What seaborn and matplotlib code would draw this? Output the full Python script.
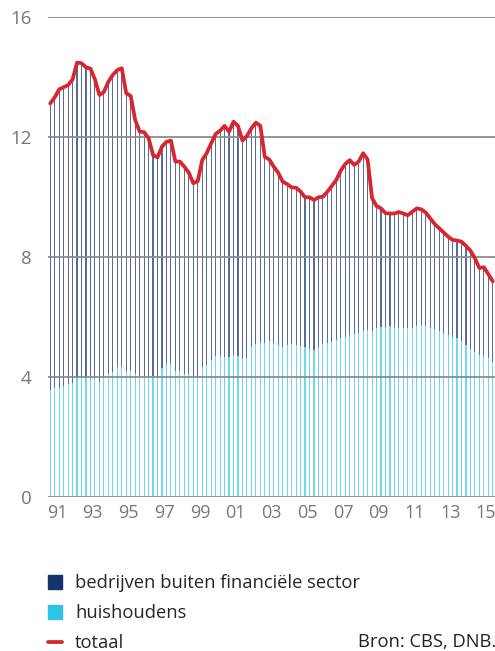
import numpy as np
import pandas as pd
import matplotlib
matplotlib.use("Agg")
import matplotlib.pyplot as plt
from matplotlib.patches import Patch
from matplotlib.lines import Line2D
import seaborn as sns

# quarterly data 1991Q1 - 2015Q4
jaren = np.repeat(np.arange(1991, 2016), 4)
kwartalen = np.tile(np.arange(1, 5), 25)

totaal = [13.11, 13.31, 13.58, 13.65, 13.72, 13.91, 14.47, 14.45, 14.31, 14.27,
          13.91, 13.39, 13.49, 13.83, 14.06, 14.22, 14.28, 13.45, 13.36, 12.56,
          12.17, 12.15, 11.95, 11.39, 11.31, 11.67, 11.83, 11.87, 11.17, 11.17,
          11.0, 10.8, 10.45, 10.52, 11.22, 11.45, 11.78, 12.09, 12.2, 12.36,
          12.17, 12.5, 12.36, 11.87, 12.02, 12.28, 12.47, 12.36, 11.33, 11.24,
          11.0, 10.8, 10.5, 10.42, 10.31, 10.3, 10.17, 9.98, 9.98, 9.89,
          9.98, 10.0, 10.17, 10.36, 10.56, 10.87, 11.09, 11.22, 11.06, 11.17,
          11.45, 11.24, 9.95, 9.69, 9.61, 9.45, 9.44, 9.44, 9.49, 9.44,
          9.38, 9.5, 9.61, 9.58, 9.47, 9.28, 9.09, 8.95, 8.81, 8.67,
          8.56, 8.54, 8.5, 8.36, 8.2, 7.95, 7.62, 7.65, 7.42, 7.18]

huishoudens = [3.56, 3.61, 3.64, 3.69, 3.76, 3.8, 3.95, 3.95, 3.95, 3.95,
               3.93, 3.83, 3.95, 4.09, 4.17, 4.31, 4.33, 4.2, 4.2, 4.09,
               4.02, 4.02, 4.02, 4.02, 4.02, 4.28, 4.44, 4.44, 4.2, 4.2,
               4.1, 4.1, 4.04, 4.04, 4.31, 4.39, 4.56, 4.69, 4.69, 4.66,
               4.66, 4.72, 4.69, 4.58, 4.61, 5.0, 5.09, 5.13, 5.11, 5.2,
               5.13, 5.06, 5.0, 5.06, 5.08, 5.06, 5.04, 5.0, 4.94, 4.9,
               5.0, 5.08, 5.13, 5.17, 5.22, 5.28, 5.33, 5.38, 5.42, 5.47,
               5.53, 5.56, 5.53, 5.61, 5.67, 5.67, 5.69, 5.67, 5.64, 5.61,
               5.61, 5.64, 5.69, 5.71, 5.69, 5.64, 5.58, 5.53, 5.47, 5.39,
               5.33, 5.28, 5.2, 5.06, 4.94, 4.83, 4.72, 4.69, 4.61, 4.5]

tick_jaren = list(range(1991, 2016, 2))
tick_labels = [str(j)[2:] for j in tick_jaren]

df = pd.DataFrame({
    "t": jaren + (kwartalen - 0.5) / 4,
    "totaal": totaal,
    "huishoudens": huishoudens,
})

donker = "#17336e"
licht = "#2ec4e6"
rood = "#d7262d"
grijs = "#8c8c8c"

sns.set_style("white")
plt.rcParams["font.family"] = ["Open Sans", "DejaVu Sans"]

fig = plt.figure(figsize=(4.95, 6.51), dpi=100)
ax = fig.add_axes([48 / 495, 1 - 496.7 / 651, 447 / 495, 480 / 651])

# dark = total height, light drawn over it -> stacked look
sns.barplot(data=df, x="t", y="totaal", native_scale=True, width=0.25,
            color=donker, saturation=1, linewidth=0, errorbar=None, ax=ax,
            alpha=0.72)
sns.barplot(data=df, x="t", y="huishoudens", native_scale=True, width=0.25,
            color="white", saturation=1, linewidth=0, errorbar=None, ax=ax)
sns.barplot(data=df, x="t", y="huishoudens", native_scale=True, width=0.25,
            color=licht, saturation=1, linewidth=0, errorbar=None, ax=ax,
            alpha=0.68)
sns.lineplot(data=df, x="t", y="totaal", color=rood, lw=2.7, ax=ax, zorder=5)

ax.set_xlim(1991, 2016)
ax.set_ylim(0, 16)
ax.set_yticks([0, 4, 8, 12, 16])
ax.set_xticks(tick_jaren)
ax.set_xticklabels([])
ax.set_xticks([j + 0.5 for j in tick_jaren], minor=True)
ax.set_xticklabels(tick_labels, minor=True)
ax.tick_params(axis="x", which="major", length=6, width=1.2, color=grijs,
               direction="out")
ax.tick_params(axis="x", which="minor", length=0, pad=5, labelsize=13,
               labelcolor="#777777")
ax.tick_params(axis="y", length=0, pad=12, labelsize=13.5, labelcolor="#777777")
ax.set_xlabel("")
ax.set_ylabel("")
for s in ax.spines.values():
    s.set_visible(False)
ax.set_axisbelow(False)
ax.yaxis.grid(True, color=grijs, lw=1.3)
ax.xaxis.grid(False)

handles = [Patch(color=donker, label="bedrijven buiten financiële sector"),
           Patch(color=licht, label="huishoudens"),
           Line2D([], [], color=rood, lw=2.7, label="totaal")]
fig.legend(handles=handles, loc="upper left",
           bbox_to_anchor=(48 / 495, 1 - 574 / 651), frameon=False,
           fontsize=13.2, handlelength=0.78, handleheight=0.78,
           handletextpad=0.7, labelspacing=0.66, borderpad=0, borderaxespad=0)
fig.text(358 / 495, 1 - 642 / 651, "Bron: CBS, DNB.", fontsize=13.2,
         color="#222222", va="center", ha="left")

fig.savefig("out.png", dpi=100)
